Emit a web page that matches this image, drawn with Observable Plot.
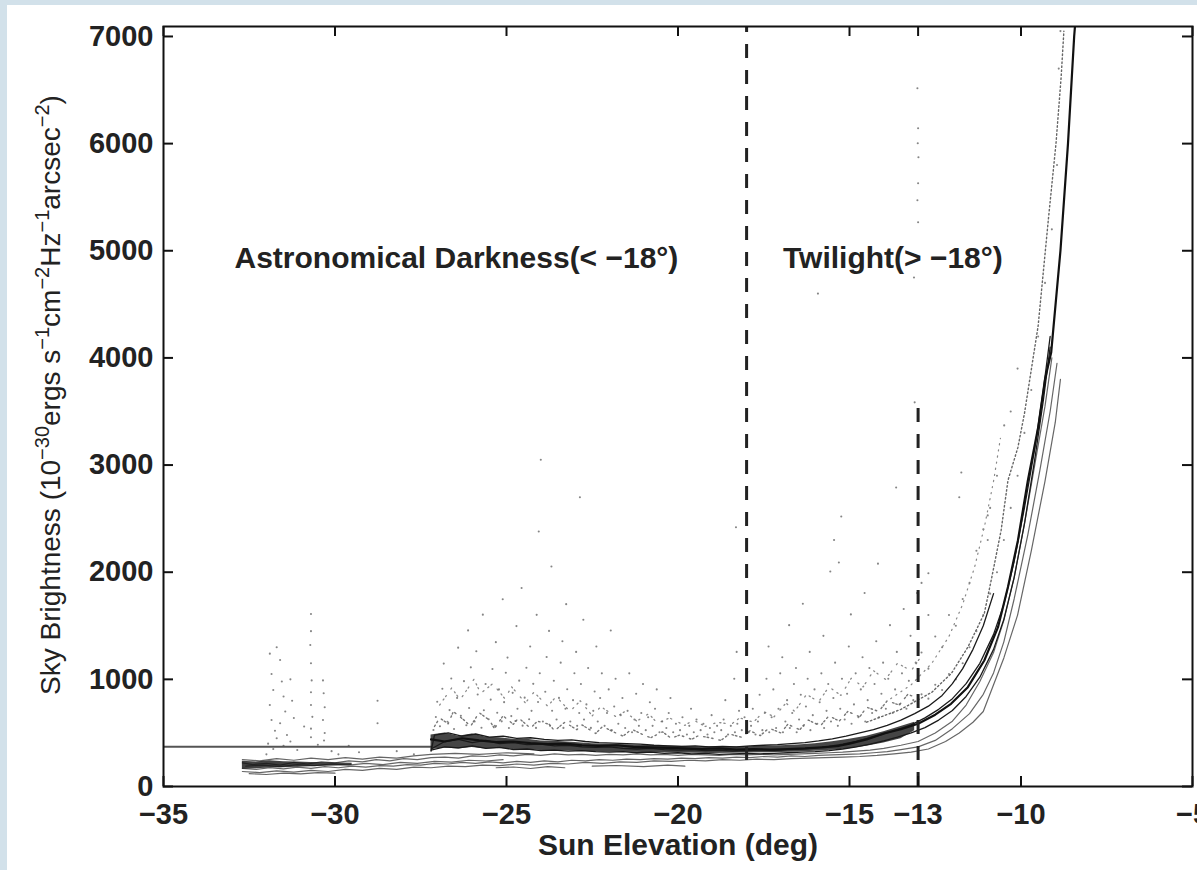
<!DOCTYPE html>
<html><head><meta charset="utf-8">
<script src="https://cdn.jsdelivr.net/npm/d3@7"></script>
<script src="https://cdn.jsdelivr.net/npm/@observablehq/plot@0.6"></script>
<style>
html,body{margin:0;padding:0;background:#d2e1ea;width:1197px;height:870px;overflow:hidden;}
#paper{position:absolute;left:7px;top:5px;right:0;bottom:0;background:#fff;}
#chart{position:absolute;left:0;top:0;}
#chart svg text{font-family:"Liberation Sans",Arial,sans-serif;}
</style></head><body><div id="paper"></div><div id="chart"></div>
<script>
// ---- ticks ----
const xTicks = [-35, -30, -25, -20, -15, -13, -10, -5];
const yTicks = [0, 1000, 2000, 3000, 4000, 5000, 6000, 7000];
// dashed reference lines (elevation, top value)
const dashX = [-18, -13];
const dashTop = [7093, 3530];
// annotations
const noteText = ["Astronomical Darkness(< \u221218\u00B0)", "Twilight(> \u221218\u00B0)"];
const noteX = [-32.93, -16.94];
const noteY = [4930, 4930];

// ---- dense core of the night traces ----
const coreX  = [-27.2,-26.8,-26.4,-26.0,-25.6,-25.2,-24.8,-24.4,-24.0,-23.5,-23.0,-22.5,-22.0,-21.5,-21.0,-20.5,-20.0,-19.5,-19.0,-18.5,-18.0,-17.5,-17.0,-16.5,-16.0,-15.5,-15.0,-14.5,-14.0,-13.5,-13.1];
const coreLo = [345,360,350,365,350,355,345,345,335,335,330,325,320,320,318,315,312,310,308,310,312,315,318,322,328,338,352,375,405,445,520];
const coreHi = [480,500,470,490,460,455,440,440,425,420,410,400,395,390,385,380,375,372,370,368,372,375,380,388,400,418,440,470,510,560,600];
const coreAX  = [-32.7,-32.3,-31.9,-31.5,-31.1,-30.7,-30.3,-29.9,-29.5];
const coreALo = [160,165,172,175,180,185,188,192,196];
const coreAHi = [235,228,240,232,228,225,222,220,216];

// ---- individual night traces [elevation, brightness] ----
const flat = [[-35,370],[-27.2,370]];
const M = [[-27.2,440],[-26.8,420],[-26.3,450],[-25.8,430],[-25.3,415],[-24.8,420],[-24.3,405],[-23.8,395],[-23.3,400],[-22.8,385],[-22.3,380],[-21.8,385],[-21.3,370],[-20.8,365],[-20.3,360],[-19.8,355],[-19.3,350],[-18.8,355],[-18.3,345],[-17.8,350],[-17.3,345],[-16.8,350],[-16.3,355],[-15.8,365],[-15.3,380],[-15,400],[-14.5,440],[-14,495],[-13.5,535],[-13,585],[-12.5,670],[-12.04,772],[-11.55,927],[-11.07,1176],[-10.67,1487],[-10.38,1861],[-10.09,2297],[-9.8,2857],[-9.5,3350],[-9.3,3800],[-9.12,4050],[-8.85,5000],[-8.63,6000],[-8.45,7000],[-8.4,7200]];
const H1 = [[-27.2,330],[-27.1,480],[-26.7,500],[-26.3,470],[-25.9,490],[-25.5,460],[-25.1,470],[-24.7,450],[-24.3,455],[-23.9,440],[-23.5,430],[-23.1,435],[-22.7,420],[-22.3,410],[-21.9,405],[-21.5,400],[-21.1,395],[-20.7,385],[-20.3,380],[-19.9,375],[-19.5,380],[-19.1,370],[-18.7,375],[-18.3,370],[-17.9,380],[-17.5,385],[-17.1,390],[-16.7,400],[-16.3,410],[-15.9,425],[-15.5,445],[-15.1,470],[-14.7,500],[-14.3,530],[-13.9,570],[-13.5,620],[-13.1,680],[-12.7,750],[-12.3,850],[-12.0,960],[-11.7,1100],[-11.4,1280],[-11.1,1500],[-10.8,1800]];
const H2 = [[-27.2,350],[-26.8,420],[-26.4,440],[-26.0,410],[-25.6,430],[-25.2,400],[-24.8,410],[-24.4,390],[-24.0,395],[-23.6,380],[-23.2,385],[-22.8,370],[-22.4,365],[-22.0,370],[-21.6,355],[-21.2,350],[-20.8,355],[-20.4,345],[-20.0,340],[-19.6,345],[-19.2,335],[-18.8,340],[-18.4,330],[-18.0,335],[-17.6,340],[-17.2,335],[-16.8,345],[-16.4,350],[-16.0,360],[-15.6,375],[-15.2,395],[-14.8,420],[-14.4,455],[-14.0,490],[-13.6,530],[-13.2,575],[-12.8,640],[-12.4,720],[-12.0,820],[-11.6,960],[-11.2,1150],[-10.8,1420],[-10.5,1700],[-10.2,2100],[-9.9,2600],[-9.6,3150],[-9.35,3700],[-9.15,4200]];
const H3 = [[-27.2,340],[-26.8,370],[-26.4,360],[-26.0,380],[-25.6,355],[-25.2,365],[-24.8,345],[-24.4,350],[-24.0,335],[-23.6,340],[-23.2,330],[-22.8,335],[-22.4,325],[-22.0,320],[-21.6,325],[-21.2,315],[-20.8,320],[-20.4,310],[-20.0,315],[-19.6,305],[-19.2,310],[-18.8,300],[-18.4,305],[-18.0,310],[-17.6,305],[-17.2,310],[-16.8,315],[-16.4,320],[-16.0,325],[-15.6,335],[-15.2,350],[-14.8,370],[-14.4,395],[-14.0,425],[-13.6,460],[-13.2,500],[-12.8,550],[-12.4,620],[-12.0,710],[-11.6,840],[-11.2,1020],[-10.8,1280],[-10.5,1560],[-10.2,1950],[-9.9,2450],[-9.6,3050],[-9.35,3600],[-9.15,4100]];
const L1 = [[-32.7,220],[-32.4,205],[-32.0,215],[-31.6,200],[-31.2,225],[-30.8,210],[-30.4,230],[-30.0,220],[-29.6,240],[-29.2,230],[-28.8,250],[-28.4,240],[-28.0,260],[-27.6,250],[-27.2,270],[-26.8,275],[-26.4,265],[-26.0,285],[-25.6,280],[-25.2,295],[-24.8,285],[-24.4,300],[-24.0,290],[-23.6,305],[-23.2,295],[-22.8,300],[-22.4,290],[-22.0,300],[-21.6,295],[-21.2,305],[-20.8,295],[-20.4,300],[-20.0,290],[-19.6,300],[-19.2,295],[-18.8,290],[-18.4,300],[-18.0,295],[-17.6,300],[-17.2,295],[-16.8,300],[-16.4,305],[-16.0,310],[-15.6,315],[-15.2,320],[-14.8,330],[-14.4,340],[-14.0,355],[-13.5,385],[-13.0,420],[-12.5,500],[-12.0,610],[-11.6,760],[-11.2,980],[-10.8,1250],[-10.5,1550],[-10.2,1950],[-9.9,2450],[-9.6,3000],[-9.3,3550],[-9.1,4000]];
const L2 = [[-32.7,170],[-32.3,160],[-31.9,175],[-31.5,165],[-31.1,180],[-30.7,170],[-30.3,185],[-29.9,175],[-29.5,190],[-29.1,180],[-28.7,195],[-28.3,190],[-27.9,205],[-27.5,200],[-27.1,215],[-26.7,210],[-26.3,225],[-25.9,215],[-25.5,230],[-25.1,220],[-24.7,235],[-24.3,225],[-23.9,240],[-23.5,230],[-23.1,245],[-22.7,240],[-22.3,250],[-21.9,245],[-21.5,255],[-21.1,250],[-20.7,260],[-20.3,255],[-19.9,265],[-19.5,260],[-19.1,270],[-18.7,265],[-18.3,275],[-17.9,270],[-17.5,280],[-17.1,275],[-16.7,285],[-16.3,280],[-15.9,290],[-15.5,295],[-15.1,300],[-14.7,305],[-14.3,315],[-13.9,325],[-13.5,345],[-13.0,370],[-12.5,430],[-12.0,540],[-11.5,680],[-11.1,860],[-10.8,1060],[-10.5,1350],[-10.2,1750],[-9.8,2350],[-9.45,2950],[-9.15,3500],[-8.95,3950]];
const L3 = [[-32.7,140],[-32.2,130],[-31.7,145],[-31.2,135],[-30.7,150],[-30.2,140],[-29.7,160],[-29.2,150],[-28.7,170],[-28.2,160],[-27.7,180],[-27.2,175],[-26.7,190],[-26.2,185],[-25.7,200],[-25.2,195],[-24.7,210],[-24.2,200],[-23.7,215],[-23.2,210],[-22.7,225],[-22.2,215],[-21.7,230],[-21.2,225],[-20.7,240],[-20.2,235],[-19.7,245],[-19.2,240],[-18.7,250],[-18.2,245],[-17.7,255],[-17.2,250],[-16.7,260],[-16.2,265],[-15.7,270],[-15.2,275],[-14.7,280],[-14.2,290],[-13.7,305],[-13.2,320],[-12.7,350],[-12.2,420],[-11.8,500],[-11.4,600],[-11.1,700],[-10.8,950],[-10.5,1200],[-10.1,1600],[-9.7,2200],[-9.3,2850],[-9.0,3400],[-8.85,3800]];
const L4 = [[-32.5,120],[-32.0,112],[-31.5,125],[-31.0,118],[-30.5,130],[-30.0,124]];
const L5 = [[-25.3,175],[-24.8,182],[-24.3,168],[-23.8,186],[-23.3,175]];
const L6 = [[-22.5,190],[-21.8,196],[-21.0,185],[-20.3,200],[-19.8,190]];
const L7 = [[-32.7,250],[-32.2,240],[-31.7,260],[-31.2,245],[-30.7,265],[-30.2,250],[-29.7,270],[-29.2,255],[-28.7,275],[-28.2,265],[-27.7,285],[-27.2,300],[-26.5,310],[-25.8,300],[-25.0,315],[-24.2,305]];
const L8 = [[-32.6,190],[-32.1,200],[-31.6,185],[-31.1,205],[-30.6,195],[-30.1,210],[-29.6,200],[-29.1,215],[-28.6,205],[-28.1,225],[-27.6,215],[-27.1,235],[-26.6,228],[-26.1,245],[-25.6,238],[-25.1,250]];
const A1 = [[-14.5,600],[-13.5,720],[-12.6,880],[-12.03,1055],[-11.55,1300],[-11.07,1615],[-10.87,1923],[-10.58,2390],[-10.38,2857],[-10.09,3165],[-9.9,3480],[-9.5,4300],[-9.2,5300],[-8.98,6000],[-8.83,6620],[-8.75,7050]];
const A2 = [[-13.8,820],[-13.2,950],[-12.6,1150],[-12.1,1400],[-11.7,1700],[-11.35,2050],[-11.05,2450],[-10.8,2850],[-10.6,3250]];
// noisy measurements just above the band
const N1 = [[-27.1,560],[-26.95,640],[-26.7,585],[-26.55,700],[-26.2,610],[-26.05,560],[-25.8,690],[-25.5,620],[-25.35,540],[-25.1,660],[-24.8,580],[-24.65,640],[-24.3,545],[-24.1,610],[-23.75,580],[-23.6,520],[-23.3,600],[-22.95,530],[-22.8,575],[-22.4,495],[-22.2,560],[-21.85,505],[-21.6,470],[-21.35,535],[-21.0,480],[-20.8,455],[-20.45,510],[-20.2,450],[-19.95,480],[-19.6,440],[-19.4,475],[-19.0,450],[-18.75,430],[-18.5,490],[-18.15,460],[-17.9,520],[-17.6,475],[-17.35,545],[-17.0,500],[-16.8,580],[-16.45,530],[-16.2,620],[-15.85,565],[-15.6,660],[-15.3,610],[-15.05,700],[-14.7,650],[-14.5,740],[-14.15,700],[-13.9,800],[-13.55,760],[-13.3,860],[-13.05,830]];
const N2 = [[-26.95,760],[-26.6,920],[-26.35,810],[-25.95,1000],[-25.75,870],[-25.4,960],[-25.05,820],[-24.85,930],[-24.45,780],[-24.2,880],[-23.8,750],[-23.55,840],[-23.15,700],[-22.85,800],[-22.5,660],[-22.25,745],[-21.8,650],[-21.55,700],[-21.2,610],[-20.85,680],[-20.6,590],[-20.25,640],[-19.8,570],[-19.55,620],[-19.2,560],[-18.85,600],[-18.45,580],[-18.2,640],[-17.8,600],[-17.5,700],[-17.2,650],[-16.85,780],[-16.6,700],[-16.25,860],[-15.9,790],[-15.6,930],[-15.25,850],[-14.95,1010],[-14.6,930],[-14.3,1080],[-13.95,1000],[-13.6,1150],[-13.2,1080],[-12.9,1220]];

// ---- scattered individual measurements [elevation, brightness] ----
const scatter = [
[-31.9,1240],[-31.85,1050],[-31.8,900],[-31.9,760],[-31.85,620],[-31.75,520],[-31.7,1300],[-31.6,1180],[-31.55,980],[-31.5,840],[-31.45,700],[-31.6,590],[-31.4,480],[-31.3,1000],[-31.25,800],[-31.2,640],[-31.3,420],[-30.9,560],[-30.7,1610],[-30.7,1450],[-30.72,1320],[-30.7,1150],[-30.68,990],[-30.7,880],[-30.7,760],[-30.66,650],[-30.7,540],[-30.7,460],[-30.35,990],[-30.33,870],[-30.3,740],[-30.35,620],[-30.3,500],[-30.32,430],[-29.3,320],[-28.76,800],[-28.76,590],[-29.6,380],[-28.2,330],[-27.7,300],[-31.95,400],[-31.8,350],[-31.5,380],[-31.1,340],[-30.5,390],[-30.1,330],[-29.9,300],[-31.7,450],[-32.0,300],
[-27.13,527],[-27.06,648],[-27.02,791],[-26.94,563],[-26.87,912],[-26.83,1147],[-26.72,604],[-26.66,713],[-26.61,1008],[-26.53,536],[-26.44,827],[-26.41,1296],[-26.33,661],[-26.24,983],[-26.17,571],[-26.09,733],[-26.04,1112],[-26.12,1457],[-25.93,606],[-25.84,858],[-25.88,1262],[-25.73,548],[-25.66,712],[-25.61,957],[-25.69,1604],[-25.52,627],[-25.46,811],[-25.41,1096],[-25.34,566],[-25.27,689],[-25.22,906],[-25.31,1347],[-25.14,608],[-25.07,787],[-25.02,1061],[-25.11,1748],[-24.93,546],[-24.86,657],[-24.82,874],[-24.97,1203],[-24.74,612],[-24.68,726],[-24.63,988],[-24.71,1497],[-24.53,568],[-24.47,829],[-24.42,1108],[-24.56,1853],[-24.34,627],[-24.27,706],[-24.22,958],[-24.31,1306],[-24.14,547],[-24.08,789],[-24.03,1057],[-24.12,1602],[-24.06,2380],[-24.0,3050],[-23.94,606],[-23.87,884],[-23.83,1208],[-23.73,566],[-23.67,707],[-23.62,987],[-23.76,1452],[-23.69,2053],[-23.54,626],[-23.47,827],[-23.42,1156],[-23.34,547],[-23.28,726],[-23.23,907],[-23.37,1356],[-23.26,1702],[-23.14,606],[-23.06,806],[-23.02,1057],[-22.94,566],[-22.88,686],[-22.83,957],[-22.97,1256],[-22.86,2700],[-22.74,626],[-22.67,766],[-22.62,1106],[-22.76,1556],[-22.54,547],[-22.47,706],[-22.43,886],[-22.34,606],[-22.27,826],[-22.22,1056],[-22.38,1306],[-22.14,566],[-22.07,686],[-22.02,906],[-21.93,526],[-21.86,746],[-21.82,1006],[-21.96,1456],[-21.74,586],[-21.67,666],[-21.62,826],[-21.54,546],[-21.47,706],[-21.42,1056],[-21.34,506],[-21.27,626],[-21.22,866],[-21.14,566],[-21.07,686],[-21.02,956],[-20.94,526],[-20.87,646],[-20.82,786],[-20.74,566],[-20.67,726],[-20.62,906],[-20.54,506],[-20.46,606],[-20.34,546],[-20.27,686],[-20.22,826],[-20.14,506],[-20.06,586],[-19.94,526],[-19.87,646],[-19.74,486],[-19.67,566],[-19.62,726],[-19.54,506],[-19.46,626],[-19.34,526],[-19.26,586],[-19.14,486],[-19.07,546],[-19.02,666],[-18.94,506],[-18.86,566],[-18.74,526],[-18.67,626],[-18.62,806],[-18.54,486],[-18.46,566],[-18.34,506],[-18.27,586],[-18.22,706],[-18.36,1006],[-18.29,1256],[-18.31,2420],[-18.14,526],[-18.06,646],[-17.94,506],[-17.87,566],[-17.82,726],[-17.74,486],[-17.67,606],[-17.62,856],[-17.54,526],[-17.47,686],[-17.42,1006],[-17.34,506],[-17.27,646],[-17.22,906],[-17.36,1306],[-17.14,546],[-17.07,726],[-17.02,1056],[-16.94,506],[-16.87,606],[-16.82,806],[-16.96,1206],[-16.74,546],[-16.67,686],[-16.62,956],[-16.76,1506],[-16.54,506],[-16.47,626],[-16.42,856],[-16.56,1106],[-16.34,566],[-16.27,746],[-16.22,1006],[-16.36,1706],[-16.14,526],[-16.07,666],[-16.02,906],[-16.16,1256],[-15.94,586],[-15.87,786],[-15.82,1056],[-15.74,546],[-15.67,706],[-15.62,956],[-15.76,1406],[-15.54,606],[-15.47,826],[-15.42,1156],[-15.56,2006],[-15.34,566],[-15.27,726],[-15.22,1006],[-15.31,2090],[-15.24,2520],[-15.45,2300],[-15.14,626],[-15.07,866],[-15.02,1306],[-14.94,586],[-14.87,766],[-14.82,1056],[-14.96,1606],[-14.74,646],[-14.67,906],[-14.62,1206],[-14.54,606],[-14.47,806],[-14.42,1106],[-14.56,1806],[-14.34,686],[-14.27,956],[-14.22,1356],[-14.17,2080],[-14.14,646],[-14.07,866],[-14.02,1156],[-13.94,726],[-13.87,1006],[-13.82,1506],[-13.74,686],[-13.67,906],[-13.62,1256],[-13.64,2790],[-13.54,766],[-13.47,1056],[-13.42,1656],[-13.34,726],[-13.27,986],[-13.22,1406],[-13.14,806],[-13.07,1156],[-13.03,1806],[-13.1,3585],[-13.12,4750],[-15.92,4600],
[-13.02,6517],[-13.0,6144],[-13.01,6004],[-12.99,5873],[-13.0,5630],[-13.02,5471],[-13.0,5266],
[-12.9,860],[-12.9,1250],[-12.9,1900],[-12.7,820],[-12.7,1100],[-12.7,1600],[-12.7,1990],[-12.5,950],[-12.5,1400],[-12.3,900],[-12.3,1300],[-12.1,1050],[-12.1,1600],[-11.9,1000],[-11.9,1500],[-11.8,2700],[-11.74,2930],[-11.7,1150],[-11.7,1750],[-11.5,1300],[-11.5,1900],[-11.3,1450],[-11.3,2200],[-11.1,1600],[-11.1,2400],[-10.97,2530],[-10.97,2300],[-10.9,1800],[-10.9,2600],[-10.7,2000],[-10.7,2900],[-10.49,3370],[-10.5,2300],[-10.3,2600],[-10.3,3500],[-10.1,2900],[-10.1,3900],[-9.9,3300],[-9.7,3700],[-9.5,4200],[-9.3,4700],[-9.1,5200],[-8.95,5800],[-8.9,6700],[-8.85,7050]
];

const pts = a => a.map(([x, y]) => ({x, y}));
const fmt = d => d < 0 ? "\u2212" + Math.abs(d) : String(d);
const FONT = "'Liberation Sans', Arial, sans-serif";

const core = coreX.map((x, i) => ({x, lo: coreLo[i], hi: coreHi[i]}));
const coreA = coreAX.map((x, i) => ({x, lo: coreALo[i], hi: coreAHi[i]}));
const dashes = dashX.map((x, i) => ({x, top: dashTop[i]}));
const notes = noteText.map((t, i) => ({t, x: noteX[i], y: noteY[i]}));

const lineOf = (arr, o) => Plot.line(pts(arr), {x: "x", y: "y", clip: true, ...o});
const grayLine = {stroke: "#333", strokeWidth: 1.2, strokeOpacity: 0.75};

const chart = Plot.plot({
  width: 1197, height: 870,
  marginLeft: 163, marginRight: 5, marginTop: 26, marginBottom: 84,
  style: {background: "transparent", fontFamily: FONT, color: "#1a1a1a"},
  x: {domain: [-35, -5]},
  y: {domain: [0, 7093]},
  marks: [
    lineOf(N2, {stroke: "#8a8a8a", strokeWidth: 1.3, strokeDasharray: "1.2,5,1.2,3,1.2,8"}),
    lineOf(N1, {stroke: "#777", strokeWidth: 1.4, strokeDasharray: "1.5,3,1.5,6,1.5,2"}),
    Plot.dot(pts(scatter), {x: "x", y: "y", r: 1.05, fill: "#666", fillOpacity: 0.8, clip: true}),
    lineOf(flat, {stroke: "#555", strokeWidth: 2}),
    lineOf(L4, grayLine), lineOf(L5, grayLine), lineOf(L6, grayLine),
    lineOf(L7, grayLine), lineOf(L8, grayLine),
    lineOf(L1, grayLine), lineOf(L2, grayLine), lineOf(L3, grayLine),
    lineOf(A1, {stroke: "#666", strokeWidth: 1.4, strokeDasharray: "1.5,2.5"}),
    lineOf(A2, {stroke: "#888", strokeWidth: 1.2, strokeDasharray: "1.2,5"}),
    Plot.areaY(coreA, {x: "x", y1: "lo", y2: "hi", fill: "#111", fillOpacity: 0.8}),
    Plot.areaY(core, {x: "x", y1: "lo", y2: "hi", fill: "#111", fillOpacity: 0.78}),
    lineOf(H1, {stroke: "#1a1a1a", strokeWidth: 1.3}),
    lineOf(H2, {stroke: "#1a1a1a", strokeWidth: 1.3}),
    lineOf(H3, {stroke: "#1a1a1a", strokeWidth: 1.3}),
    lineOf(M, {stroke: "#111", strokeWidth: 2.2}),
    Plot.ruleX(dashes, {x: "x", y1: 0, y2: "top", stroke: "#222", strokeWidth: 3, strokeDasharray: "14,12"}),
    Plot.text(notes, {x: "x", y: "y", text: "t", textAnchor: "start", fontSize: 30, fontWeight: "bold", fill: "#222"}),
    Plot.ruleX(xTicks, {insetTop: 750, stroke: "#111", strokeWidth: 2}),
    Plot.ruleX(xTicks, {insetBottom: 750, stroke: "#111", strokeWidth: 2}),
    Plot.ruleY(yTicks, {insetRight: 1019, stroke: "#111", strokeWidth: 2}),
    Plot.ruleY(yTicks, {insetLeft: 1019, stroke: "#111", strokeWidth: 2}),
    Plot.frame({stroke: "#111", strokeWidth: 2}),
    Plot.axisX(xTicks, {tickSize: 0, tickPadding: 17, tickFormat: fmt, fontSize: 29, fontWeight: "bold", fill: "#222", label: null}),
    Plot.axisY(yTicks, {tickSize: 0, tickPadding: 10, tickFormat: fmt, fontSize: 29, fontWeight: "bold", fill: "#222", label: null}),
    Plot.text(["Sun Elevation (deg)"], {text: d => d, frameAnchor: "bottom", dy: 68, fontSize: 30, fontWeight: "bold", fill: "#222"})
  ]
});
document.getElementById("chart").appendChild(chart);

// y-axis title with superscripts
const yTitle = [["Sky Brightness (10", false], ["\u221230", true], ["ergs s", false], ["\u22121", true], ["cm", false], ["\u22122", true], ["Hz", false], ["\u22121", true], ["arcsec", false], ["\u22122", true], [")", false]];
const t = d3.select(chart).append("text")
  .attr("transform", "translate(60,395) rotate(-90)")
  .attr("text-anchor", "middle")
  .attr("fill", "#222")
  .style("font-family", FONT)
  .style("font-size", "28px");
let up = false;
for (const [s, sup] of yTitle) {
  const sp = t.append("tspan").text(s);
  if (sup && !up) { sp.attr("dy", -11).style("font-size", "20px"); up = true; }
  else if (sup) { sp.style("font-size", "20px"); }
  else if (!sup && up) { sp.attr("dy", 11); up = false; }
}
</script></body></html>
